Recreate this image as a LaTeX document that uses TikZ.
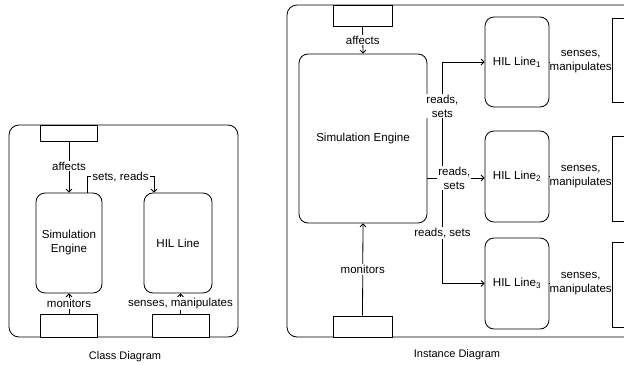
\documentclass[tikz,border=0pt]{standalone}
\usepackage{fontspec}
\setmainfont{Liberation Sans}
\usetikzlibrary{arrows.meta}
\begin{document}
\begin{tikzpicture}[x=1pt,y=-1pt,
  box/.style={draw,line width=0.8pt,rounded corners=9pt,inner sep=0pt,align=center,font=\fontsize{11.6}{14}\selectfont},
  outer/.style={draw,line width=0.8pt,rounded corners=10pt,inner sep=0pt},
  sq/.style={draw,fill=white,line width=0.8pt,inner sep=0pt},
  lbl/.style={fill=white,inner sep=1pt,align=center,font=\fontsize{11.5}{14}\selectfont},
  captext/.style={inner sep=0pt,font=\fontsize{11}{13}\selectfont},
  con/.style={line width=0.8pt},
  arr/.style={con,-{Straight Barb[length=3pt,width=6pt]}},
]
\useasboundingbox (0,0) rectangle (624,366);
\clip (0,0) rectangle (624,366);

% ---------------- Class diagram ----------------
\node[outer,minimum width=229pt,minimum height=212pt] (cls) at (123.5,231) {};
\node[sq,minimum width=57pt,minimum height=16pt] (ctop) at (68.5,133) {};
\node[sq,minimum width=57pt,minimum height=23pt] (cb1) at (68.5,325.5) {};
\node[sq,minimum width=57pt,minimum height=23pt] (cb2) at (180.5,325.5) {};
\node[box,minimum width=66pt,minimum height=100pt] (seng) at (69,243) {Simulation\\Engine};
\node[box,minimum width=68pt,minimum height=100pt] (hil) at (178,243) {HIL Line};

\draw[arr] (ctop.south -| seng.north) -- node[lbl,pos=0.48]{affects} (seng.north);
\draw[arr] ([xshift=18pt]seng.north) -- ++(0,-16) -| node[lbl,pos=0.25]{sets, reads} ([xshift=-24pt]hil.north);
\draw[arr] (cb1.north -| seng.south) -- node[lbl]{monitors} (seng.south);
\draw[arr] (cb2.north) -- node[lbl]{senses, manipulates} (cb2.north |- hil.south);

\node[captext] (capc) at (125,357) {Class Diagram};

% ---------------- Instance diagram ----------------
\node[outer,minimum width=363pt,minimum height=332pt] (ins) at (468.5,171) {};
\node[sq,minimum width=59pt,minimum height=21pt] (itop) at (362.5,15.5) {};
\node[sq,minimum width=59pt,minimum height=21pt] (ibot) at (362.5,326.5) {};
\node[box,minimum width=128pt,minimum height=169pt] (ieng) at (363,138.5) {Simulation Engine};
\node[box,minimum width=64pt,minimum height=90pt] (h1) at (517,62) {HIL Line\textsubscript{1}};
\node[box,minimum width=64pt,minimum height=91pt] (h2) at (517,176.5) {HIL Line\textsubscript{2}};
\node[box,minimum width=64pt,minimum height=91pt] (h3) at (517,283.5) {HIL Line\textsubscript{3}};
\node[sq,minimum width=68pt,minimum height=84pt,anchor=north west] (r1) at (612,18) {};
\node[sq,minimum width=68pt,minimum height=85pt,anchor=north west] (r2) at (612,136) {};
\node[sq,minimum width=68pt,minimum height=85pt,anchor=north west] (r3) at (612,242) {};

\draw[arr] (itop.south) -- node[lbl]{affects} (ieng.north);
\draw[arr] (ibot.north) -- node[lbl]{monitors} (ieng.south);

\coordinate (ex) at ([yshift=-39.5pt]ieng.east);
\coordinate (tr) at ([xshift=15pt]ex);
\draw[arr] (ex) -- (tr) |- node[lbl,pos=0.31]{reads,\\sets} (h1.west);
\draw[arr] (ex) -- (tr) |- node[lbl,pos=0.26]{reads, sets} (h3.west);
\draw[arr] (ex) -- node[lbl,pos=0.47]{reads,\\sets} (ex -| h2.west);

\draw[con] (h1.east) -- node[lbl,inner sep=0pt]{senses,\\manipulates} (h1.east -| r1.west);
\draw[con] (h2.east) -- node[lbl,inner sep=0pt]{senses,\\manipulates} (h2.east -| r2.west);
\draw[con] (h3.east) -- node[lbl,inner sep=0pt]{senses,\\manipulates} (h3.east -| r3.west);

\node[captext] (capi) at (457,355) {Instance Diagram};
\end{tikzpicture}
\end{document}
